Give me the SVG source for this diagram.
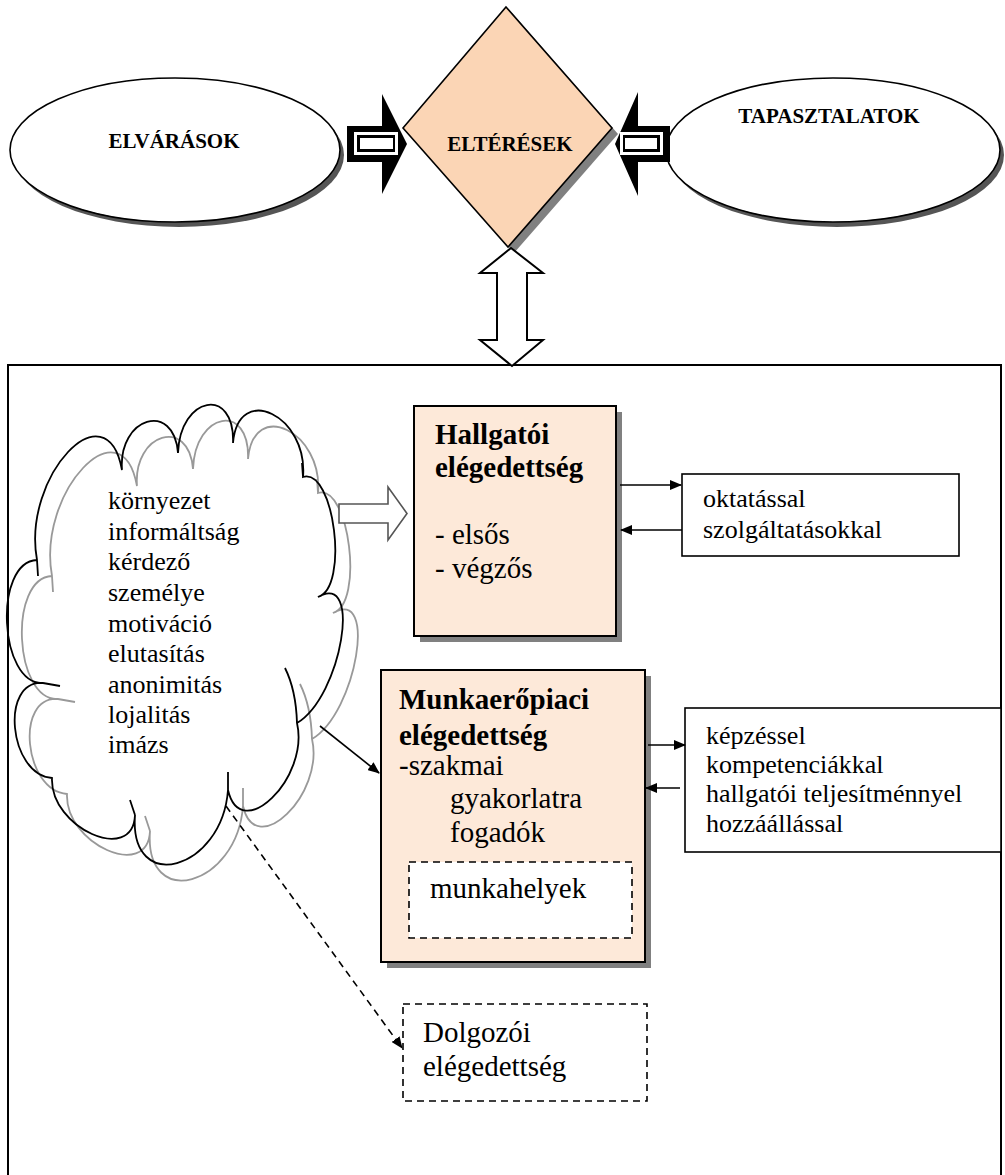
<svg xmlns="http://www.w3.org/2000/svg" xmlns:xlink="http://www.w3.org/1999/xlink" width="1005" height="1175" viewBox="0 0 1005 1175">
<style>
.t{font-family:"Liberation Serif","Times New Roman",serif;fill:#000}
.hb{font-size:21px;font-weight:bold;text-anchor:middle}
.b29{font-size:29px;font-weight:bold}
.n29{font-size:29px}
.n26{font-size:26px}
.ln{stroke:#000;stroke-width:1.6;fill:none}
.box{fill:#fff;stroke:#000;stroke-width:1.6}
.peach{fill:#fde9d9;stroke:#000;stroke-width:2}
.shadow{fill:#808080}
.dash{fill:#fff;stroke:#000;stroke-width:1.6;stroke-dasharray:7 5}
</style>
<defs>
<marker id="ah" markerWidth="12" markerHeight="10" refX="11" refY="5" orient="auto" markerUnits="userSpaceOnUse">
<path d="M0,0 L12,5 L0,10 Z" fill="#000"/>
</marker>
<path id="cloud" d="M43,683 C-1,685 -7,562 37,560 C21.7,476 106.7,386 122,470 C118,417.3 174,400.3 178,453 C180,395.7 235,385.7 233,443 C238.3,381.7 308.3,415.7 303,477 C334.3,467.7 349.3,587.7 318,597 C362.7,570.3 341.7,696.3 297,723 C309.7,778.3 240.7,845.3 228,790 C222,870.7 129,895.7 135,815 C133,865 50,828 52,778 C8.7,774.7 -0.3,679.7 43,683 Z M285,668 Q296,690 297,723 M228,772 L228,790 M130,800 L135,815 M43,683 L60,686 M37,560 L38,576 M302,463 L303,477"/>
</defs>
<rect width="1005" height="1175" fill="#fff"/>

<g id="frame">
<rect x="8" y="365" width="993" height="830" fill="none" stroke="#000" stroke-width="2"/>
</g>

<g id="elvarasok">
<ellipse cx="179" cy="155" rx="165" ry="72" fill="#555"/>
<ellipse cx="175" cy="150" rx="165" ry="72" fill="#fff" stroke="#000" stroke-width="1.6"/>
<text class="t hb" x="174" y="148">ELVÁRÁSOK</text>
</g>

<g id="tapasztalatok">
<ellipse cx="837" cy="155" rx="167" ry="72" fill="#555"/>
<ellipse cx="833" cy="150" rx="167" ry="72" fill="#fff" stroke="#000" stroke-width="1.6"/>
<text class="t hb" x="829" y="123">TAPASZTALATOK</text>
</g>

<g id="elteresek">
<polygon points="512,13 618,134 514,253 409,134" class="shadow"/>
<polygon points="506,7 612,128 508,247 403,128" fill="#fbd5b5" stroke="#000" stroke-width="1.6"/>
<text class="t hb" x="510" y="151">ELTÉRÉSEK</text>
</g>

<g id="cloud-node">
<use xlink:href="#cloud" href="#cloud" transform="translate(15,16)" fill="none" stroke="#999" stroke-width="1.8"/>
<use xlink:href="#cloud" href="#cloud" fill="none" stroke="#000" stroke-width="1.8"/>
<g class="t n26">
<text x="108" y="509">környezet</text>
<text x="108" y="540">informáltság</text>
<text x="108" y="570">kérdező</text>
<text x="108" y="601">személye</text>
<text x="108" y="632">motiváció</text>
<text x="108" y="662">elutasítás</text>
<text x="108" y="693">anonimitás</text>
<text x="108" y="723">lojalitás</text>
<text x="108" y="753">imázs</text>
</g>
</g>

<g id="hallgatoi">
<rect x="420" y="412" width="202" height="230" class="shadow"/>
<rect x="414" y="406" width="202" height="230" class="peach"/>
<text class="t b29" x="435" y="444">Hallgatói</text>
<text class="t b29" x="435" y="477">elégedettség</text>
<text class="t n29" x="435" y="544">- elsős</text>
<text class="t n29" x="435" y="578">- végzős</text>
</g>

<g id="oktatassal">
<rect x="682" y="474" width="277" height="82" class="box"/>
<text class="t n26" x="703" y="507">oktatással</text>
<text class="t n26" x="703" y="538">szolgáltatásokkal</text>
</g>

<g id="munkaeropiaci">
<rect x="387" y="676" width="264" height="292" class="shadow"/>
<rect x="381" y="670" width="264" height="292" class="peach"/>
<text class="t b29" x="399" y="709">Munkaerőpiaci</text>
<text class="t b29" x="399" y="745">elégedettség</text>
<text class="t n29" x="399" y="775">-szakmai</text>
<text class="t n29" x="450" y="808">gyakorlatra</text>
<text class="t n29" x="450" y="842">fogadók</text>
</g>

<g id="munkahelyek">
<rect x="409" y="862" width="223" height="76" class="dash"/>
<text class="t n29" x="430" y="898">munkahelyek</text>
</g>

<g id="kepzessel">
<rect x="685" y="708" width="316" height="144" class="box"/>
<text class="t n26" x="706" y="744">képzéssel</text>
<text class="t n26" x="706" y="773">kompetenciákkal</text>
<text class="t n26" x="706" y="802">hallgatói teljesítménnyel</text>
<text class="t n26" x="706" y="832">hozzáállással</text>
</g>

<g id="dolgozoi">
<rect x="403" y="1004" width="244" height="97" class="dash"/>
<text class="t n29" x="423" y="1042">Dolgozói</text>
<text class="t n29" x="423" y="1076">elégedettség</text>
</g>

<g id="connectors">
<!-- left black block arrow -->
<polygon points="347,126 382,126 382,94 407,144 382,194 382,162 347,162" fill="#000"/>
<rect x="354" y="132" width="44" height="23" fill="#fff"/>
<rect x="357" y="135" width="38" height="17" fill="#000"/>
<rect x="360" y="138" width="33" height="11" fill="#fff"/>
<!-- right black block arrow -->
<polygon points="670,126 638,126 638,92 615,144 638,196 638,162 670,162" fill="#000"/>
<rect x="620" y="132" width="43" height="23" fill="#fff"/>
<rect x="623" y="135" width="37" height="17" fill="#000"/>
<rect x="625" y="138" width="32" height="11" fill="#fff"/>
<!-- vertical double arrow -->
<polygon points="511,248 543,273 527,273 527,340 543,340 512,366 480,340 497,340 497,273 480,273" fill="#fff" stroke="#000" stroke-width="2" stroke-linejoin="miter"/>
<!-- hollow arrow cloud to hallgatoi -->
<polygon points="339,504 388,504 388,487 407,513.5 388,540 388,523 339,523" fill="#fff" stroke="#555" stroke-width="1.6"/>
<!-- hallgatoi <-> oktatassal -->
<line x1="620" y1="485" x2="681" y2="485" class="ln" marker-end="url(#ah)"/>
<line x1="682" y1="530" x2="621" y2="530" class="ln" marker-end="url(#ah)"/>
<!-- munkaeropiaci <-> kepzessel -->
<line x1="648" y1="745" x2="685" y2="745" class="ln" marker-end="url(#ah)"/>
<line x1="680" y1="788" x2="646" y2="788" class="ln" marker-end="url(#ah)"/>
<!-- cloud to munkaeropiaci -->
<line x1="320" y1="726" x2="379" y2="773" class="ln" marker-end="url(#ah)"/>
<!-- cloud to dolgozoi (dashed) -->
<line x1="226" y1="806" x2="402" y2="1048" class="ln" stroke-dasharray="7 5" marker-end="url(#ah)"/>
</g>
</svg>
